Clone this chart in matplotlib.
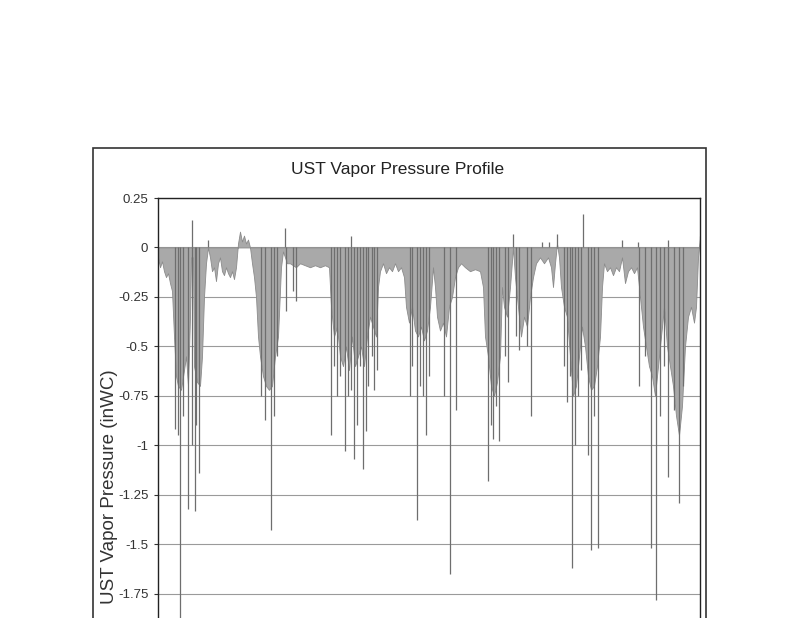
import matplotlib
matplotlib.use("Agg")
import matplotlib.pyplot as plt
from matplotlib.patches import Rectangle

# broad shape of the vapor pressure trace (reading position, inWC)
env_x = [0, 2, 4, 6, 8, 10, 12, 14, 16, 18, 20, 23, 26, 28, 30, 32, 33, 35, 36, 39,
         42, 44, 46, 48, 50, 52, 54, 56, 58, 60, 62, 64, 66, 68, 70, 72, 74, 76, 78, 80,
         82, 84, 86, 88, 90, 92, 94, 96, 98, 100, 102, 105, 108, 111, 114, 117, 120, 123, 125, 127,
         129, 132, 135, 138, 142, 147, 152, 157, 162, 167, 171, 173, 176, 179, 182, 185, 188, 191, 194, 197,
         200, 203, 206, 209, 212, 215, 218, 220, 222, 225, 228, 231, 234, 237, 240, 243, 246, 248, 251, 254,
         257, 260, 263, 266, 269, 272, 275, 277, 279, 282, 285, 288, 291, 294, 297, 300, 303, 307, 312, 317,
         322, 325, 327, 330, 333, 336, 339, 342, 344, 346, 349, 352, 355, 357, 360, 363, 366, 369, 372, 375,
         378, 382, 386, 390, 393, 395, 397, 399, 401, 403, 406, 409, 412, 415, 418, 421, 424, 427, 430, 433,
         436, 439, 442, 444, 446, 449, 452, 455, 458, 461, 464, 467, 470, 473, 476, 479, 482, 485, 488, 491,
         494, 497, 500, 503, 506, 509, 512, 515, 518, 521, 524, 527, 530, 533, 536, 538, 540, 542]
env_y = [-0.05, -0.10, -0.07, -0.12, -0.15, -0.13, -0.18, -0.22, -0.45, -0.65, -0.70, -0.72, -0.62, -0.55, -0.70, -0.35, -0.05, -0.05, -0.60, -0.68,
         -0.70, -0.55, -0.25, -0.08, 0.00, -0.05, -0.12, -0.10, -0.17, -0.08, -0.05, -0.12, -0.14, -0.10, -0.13, -0.15, -0.12, -0.16, -0.10, 0.02,
         0.08, 0.03, 0.06, 0.02, 0.04, 0.00, -0.08, -0.15, -0.25, -0.45, -0.55, -0.65, -0.70, -0.72, -0.70, -0.55, -0.45, -0.10, -0.02, -0.05,
         -0.08, -0.08, -0.09, -0.10, -0.08, -0.09, -0.10, -0.09, -0.10, -0.09, -0.10, -0.30, -0.45, -0.40, -0.55, -0.60, -0.50, -0.62, -0.45, -0.60,
         -0.55, -0.50, -0.60, -0.45, -0.35, -0.40, -0.45, -0.20, -0.12, -0.08, -0.13, -0.10, -0.12, -0.08, -0.12, -0.10, -0.15, -0.30, -0.38, -0.30,
         -0.42, -0.45, -0.40, -0.47, -0.42, -0.30, -0.10, -0.20, -0.35, -0.42, -0.38, -0.45, -0.30, -0.25, -0.15, -0.10, -0.08, -0.10, -0.12, -0.11,
         -0.12, -0.20, -0.45, -0.55, -0.70, -0.75, -0.68, -0.55, -0.20, -0.30, -0.35, -0.20, 0.00, -0.15, -0.30, -0.45, -0.35, -0.40, -0.25, -0.15,
         -0.08, -0.05, -0.08, -0.05, -0.10, -0.20, -0.08, 0.02, -0.05, -0.20, -0.30, -0.35, -0.55, -0.75, -0.70, -0.55, -0.40, -0.50, -0.65, -0.72,
         -0.70, -0.60, -0.45, -0.20, -0.08, -0.12, -0.10, -0.14, -0.10, -0.12, -0.05, -0.18, -0.12, -0.10, -0.13, -0.10, -0.25, -0.40, -0.50, -0.60,
         -0.65, -0.75, -0.60, -0.45, -0.30, -0.50, -0.60, -0.70, -0.85, -0.95, -0.80, -0.50, -0.35, -0.30, -0.38, -0.30, -0.05, 0.05]

# single-reading spikes
spike_x = [34, 50, 127, 193, 355, 384, 391, 399, 425, 464, 480, 510, 542,
           17, 20, 22, 25, 30, 34, 37, 38, 41, 103, 107, 113, 116, 119, 128, 135, 138,
           173, 176, 179, 182, 187, 190, 193, 196, 199, 202, 205, 208, 210, 214, 216, 219,
           252, 254, 259, 262, 265, 268, 271, 286, 292, 298, 330, 333, 335, 338, 341, 347,
           350, 358, 361, 369, 373, 406, 409, 412, 414, 417, 420, 423, 430, 433, 436, 440,
           481, 487, 493, 498, 502, 506, 510, 516, 521, 525]
spike_y = [0.14, 0.04, 0.10, 0.06, 0.07, 0.03, 0.03, 0.07, 0.17, 0.04, 0.03, 0.04, 0.06,
           -0.92, -0.95, -1.90, -0.85, -1.32, -1.00, -1.33, -0.90, -1.14, -0.75, -0.87, -1.43, -0.85, -0.55, -0.32, -0.22, -0.27,
           -0.95, -0.60, -0.75, -0.65, -1.03, -0.75, -0.72, -1.07, -0.90, -0.60, -1.12, -0.93, -0.70, -0.55, -0.72, -0.62,
           -0.75, -0.60, -1.38, -0.70, -0.75, -0.95, -0.65, -0.75, -1.65, -0.82, -1.18, -0.90, -0.97, -0.80, -0.98, -0.55,
           -0.68, -0.45, -0.52, -0.50, -0.85, -0.60, -0.78, -0.65, -1.62, -1.00, -0.75, -0.62, -1.05, -1.53, -0.85, -1.52,
           -0.70, -0.55, -1.52, -1.78, -0.85, -0.60, -1.16, -0.82, -1.29, -0.70]

y_ticks = [0.25, 0, -0.25, -0.5, -0.75, -1, -1.25, -1.5, -1.75]
y_labels = ["0.25", "0", "-0.25", "-0.5", "-0.75", "-1", "-1.25", "-1.5", "-1.75"]

plt.rcParams["font.family"] = ["Liberation Sans", "DejaVu Sans"]

fig = plt.figure(figsize=(8, 6.18), dpi=100)
ax = fig.add_axes([0.1975, -0.0405, 0.6775, 0.7201])

ax.fill_between(env_x, env_y, 0, color="#a9a9a9", linewidth=0.6, edgecolor="#8c8c8c", zorder=2)
ax.vlines(spike_x, 0, spike_y, color="#6e6e6e", linewidth=0.9, zorder=3)

ax.set_xlim(0, 542)
ax.set_ylim(-2.0, 0.25)
ax.set_yticks(y_ticks)
ax.set_yticklabels(y_labels, fontsize=9.5, color="#333333")
ax.set_xticks([])
ax.grid(axis="y", color="#9a9a9a", linewidth=0.8, zorder=0)
for s in ax.spines.values():
    s.set_color("#222222")
    s.set_linewidth(1.0)
ax.tick_params(axis="y", length=3, color="#333333", pad=4)

# chart-area border, cut off by the bottom of the page
fig.patches.append(Rectangle((0.116, -0.1), 0.767, 0.861, transform=fig.transFigure,
                             fill=False, edgecolor="#333333", linewidth=1.2))

fig.text(0.4975, 0.725, "UST Vapor Pressure Profile", ha="center", va="center",
         fontsize=12.5, color="#222222")
fig.text(0.137, 0.212, "UST Vapor Pressure (inWC)", rotation=90, ha="center", va="center",
         fontsize=13.5, color="#333333")

fig.savefig("out.png", dpi=100)
